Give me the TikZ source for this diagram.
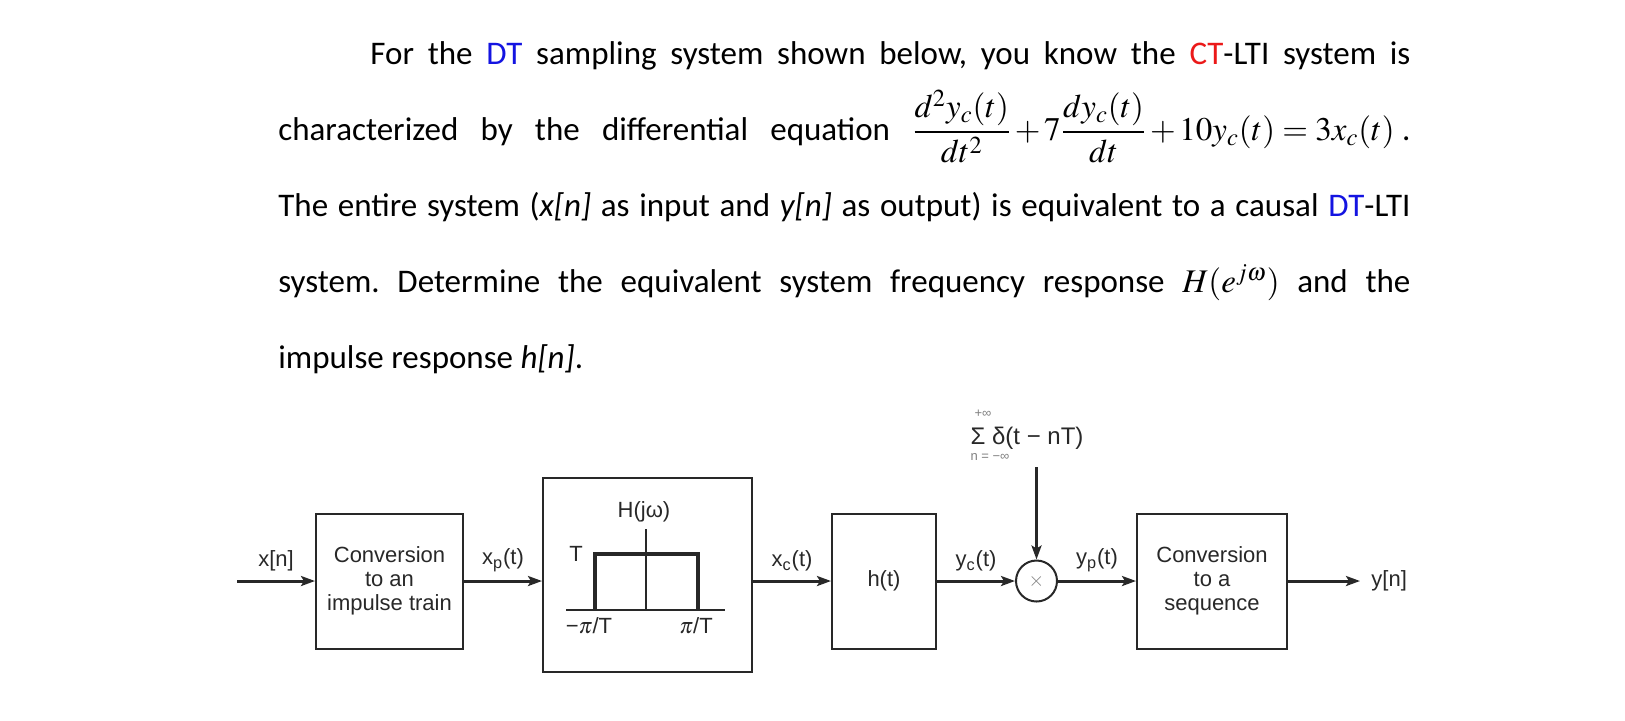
\documentclass[tikz,border=0pt]{standalone}
\usepackage{mathptmx}
\usepackage{fontspec}
\setmainfont{Carlito}
\newfontfamily\blockfont{Liberation Sans}
\usetikzlibrary{positioning, arrows.meta}
\definecolor{DTBlue}{RGB}{20,20,225}
\definecolor{CTRed}{RGB}{235,25,25}
\definecolor{InkGray}{RGB}{40,40,40}
\tikzset{
    % Block style
    block/.style={
        rectangle,
        draw=InkGray,
        line width=1pt,
        minimum width=73.5pt,
        minimum height=67.5pt,
        align=center,
        text=InkGray,
        font=\blockfont\fontsize{11}{12}\selectfont
    },
    % Multiplier style
    mixer/.style={
        circle,
        draw=InkGray,
        line width=1pt,
        minimum size=20.5pt,
        inner sep=0pt
    },
    % Signal label
    signal/.style={
        text=InkGray,
        inner sep=1pt,
        font=\blockfont\fontsize{11}{12}\selectfont
    },
    % Limit of the sum
    limit/.style={
        text=gray,
        inner sep=0pt,
        font=\blockfont\fontsize{6.5}{7}\selectfont
    },
    % Arrow style
    arrow/.style={
        -{Stealth[length=7pt,width=5pt,inset=1.5pt]},
        line width=1.5pt,
        draw=InkGray
    }
}

\begin{document}
\begin{tikzpicture}[x=0.5pt, y=-0.5pt, node distance=39pt]
    \useasboundingbox (0,0) rectangle (1625,720);

    % Problem statement
    \node (para) [anchor=north west, text width=566pt, inner sep=0pt, align=justify, font=\fontsize{16.5}{38}\selectfont] at (278,41) {%
        \tolerance=9999\relax\frenchspacing\medmuskip=2mu\relax\thickmuskip=4mu\relax
        \hspace*{46pt}For the \textcolor{DTBlue}{DT} sampling system shown below, you know the \textcolor{CTRed}{CT}-LTI system is\linebreak
        characterized by the differential equation \mbox{$\displaystyle\frac{d^2y_c(t)}{dt^2}+7\frac{dy_c(t)}{dt}+10y_c(t)=3x_c(t)$\ .}\linebreak
        The entire system (\textit{x[n]} as input and \textit{y[n]} as output) is equivalent to a causal \textcolor{DTBlue}{DT}-LTI\linebreak
        system. Determine the equivalent system frequency response \mbox{$H(e^{j\omega})$} and the\linebreak
        impulse response \textit{h[n]}.};

    % Block diagram
    \coordinate (xin) at (237,581);
    \node (conv1) [block] at (389.5,581) {Conversion\\to an\\impulse train};
    \node (filt) [block, minimum width=104.5pt, minimum height=97pt, right=of conv1, yshift=3pt] {};
    \node (ht) [block, minimum width=52pt, right=of filt, yshift=-3pt] {h(t)};
    \node (mult) [mixer, right=of ht] {\color{gray}$\times$};
    \node (conv2) [block, minimum width=75pt, right=of mult] {Conversion\\to a\\sequence};
    \coordinate [right=36pt of conv2] (yout);

    % Ideal lowpass inside the filter
    \begin{scope}[shift={(filt.center)}]
        \draw[line width=0.6pt, draw=InkGray] (-81.5,35) -- (77.5,35);
        \draw[line width=0.6pt, draw=InkGray] (-1.5,35) -- (-1.5,-46);
        \draw[line width=1.6pt, draw=InkGray] (-52.5,35) -- (-52.5,-21) -- (50.5,-21) -- (50.5,35);
        \node (gain) [signal] at (-71.5,-21) {T};
        \node (hjw) [signal] at (-3.5,-63) {H(jω)};
        \node (lcut) [signal] at (-58.5,51) {−$\pi$/T};
        \node (rcut) [signal] at (48.5,51) {$\pi$/T};
    \end{scope}

    \draw[arrow] (xin) -- (conv1) node[signal, midway, above=3pt] {x[n]};
    \draw[arrow] (conv1) -- (conv1 -| filt.west) node[signal, midway, above=3pt] {x\textsubscript{p}(t)};
    \draw[arrow] (filt.east |- ht) -- (ht) node[signal, midway, above=3pt] {x\textsubscript{c}(t)};
    \draw[arrow] (ht) -- (mult) node[signal, midway, above=3pt] {y\textsubscript{c}(t)};
    \draw[arrow] (mult) -- (conv2) node[signal, midway, above=3pt] {y\textsubscript{p}(t)};
    \draw[arrow] (conv2) -- (yout);
    \node (ylbl) [signal, right=4.5pt of yout] {y[n]};

    % Impulse train
    \node (pulse) [signal, font=\blockfont\fontsize{12}{13}\selectfont] at (1027,438) {Σ δ(t − nT)};
    \node (upper) [limit] at (983,414) {+∞};
    \node (lower) [limit] at (990,457) {n = −∞};
    \coordinate (imp) at (mult |- 0,467);
    \draw[arrow] (imp) -- (mult);
\end{tikzpicture}
\end{document}
